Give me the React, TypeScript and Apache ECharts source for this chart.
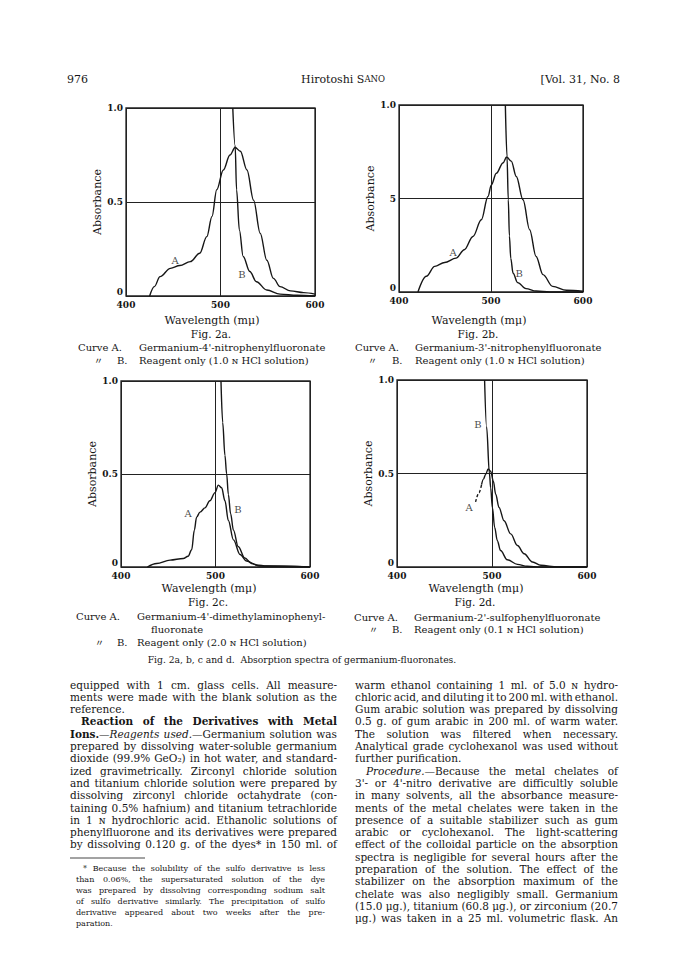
import React, { useEffect, useRef } from "react";
import * as echarts from "echarts";

// ---------- data ----------
const WAVE_MIN = 400;
const WAVE_MAX = 600;
const WAVE_STEP = 100;
const ABS_STEP = 0.5;

const fig2aA: number[][] = [[425,0],[430,0.05],[436,0.103],[447,0.147],[457,0.162],[468,0.183],[478,0.227],[485.5,0.316],[491,0.423],[496,0.565],[503,0.67],[510,0.75],[515.5,0.79],[521,0.77],[528,0.67],[535,0.51],[542,0.334],[549,0.19],[556,0.094],[563,0.05],[574,0.027],[588,0.018],[600,0.01]];
const fig2aB: number[][] = [[513,1.0],[515.5,0.8],[517,0.565],[520,0.35],[524,0.21],[531,0.13],[538,0.076],[549,0.032],[563,0.01],[581,0.004],[600,0]];

const fig2bA: number[][] = [[420.6,0],[429.7,0.084],[438.8,0.137],[449.6,0.158],[462,0.181],[471,0.226],[480.4,0.297],[489.5,0.386],[496.7,0.511],[500.4,0.573],[505.8,0.635],[513,0.69],[517,0.722],[522,0.7],[527.5,0.618],[534.8,0.493],[542,0.333],[549,0.19],[556.5,0.093],[567,0.03],[582,0.009],[600,0.004]];
const fig2bB: number[][] = [[515.6,1.0],[517.4,0.724],[518.8,0.493],[520,0.3],[521.5,0.18],[524,0.1],[529,0.05],[538,0.018],[549,0.005],[564,0],[600,0]];

const fig2cA: number[][] = [[427.9,0],[437.7,0.019],[451.9,0.037],[466,0.046],[471,0.058],[474.8,0.093],[477.6,0.198],[480,0.268],[483.6,0.295],[488.9,0.318],[494,0.356],[499.5,0.4],[503,0.44],[506.5,0.426],[510,0.356],[513.6,0.25],[519,0.146],[526,0.067],[533,0.032],[543.6,0.011],[554,0.005],[600,0]];
const fig2cB: number[][] = [[505.8,1.0],[507.6,0.777],[510,0.6],[511.8,0.5],[513.6,0.39],[516,0.286],[519,0.198],[524,0.11],[531,0.049],[538,0.019],[547,0.005],[600,0]];

const fig2dAdash: number[][] = [[482.7,0.348],[486.3,0.397],[489,0.44]];
const fig2dA: number[][] = [[489,0.44],[491,0.47],[493.3,0.495],[496,0.525],[498.6,0.512],[501.4,0.459],[503.9,0.389],[507.4,0.318],[512.7,0.247],[519.7,0.177],[526.8,0.115],[533.8,0.071],[542.6,0.027],[551.4,0.009],[569,0],[600,0]];
const fig2dB: number[][] = [[492.2,1.0],[494.3,0.75],[497.3,0.5],[498.6,0.424],[500.4,0.318],[502.8,0.212],[505.6,0.141],[509,0.088],[516,0.039],[526.8,0.014],[537,0.004],[551,0],[600,0]];

const curveLabels = [
  [{ name: "A", value: [451.9, 0.19] }, { name: "B", value: [522.8, 0.117] }],
  [{ name: "A", value: [458.7, 0.209] }, { name: "B", value: [530.5, 0.1] }],
  [{ name: "A", value: [470.9, 0.29] }, { name: "B", value: [523.8, 0.31] }],
  [{ name: "A", value: [475.8, 0.32] }, { name: "B", value: [485.3, 0.76] }],
];

const yTickLabels = [
  { 0: "0", 0.5: "0.5", 1: "1.0" },
  { 0: "0", 0.5: "5", 1: "1.0" },
  { 0: "0", 0.5: "0.5", 1: "1.0" },
  { 0: "0", 0.5: "0.5", 1: "1.0" },
];

const xAxisTitle = "Wavelength (m\u03bc)";
const yAxisTitle = "Absorbance";
const figNames = ["Fig. 2a.", "Fig. 2b.", "Fig. 2c.", "Fig. 2d."];
const curveACaptions = [
  ["Germanium-4'-nitrophenylfluoronate"],
  ["Germanium-3'-nitrophenylfluoronate"],
  ["Germanium-4'-dimethylaminophenyl-", "fluoronate"],
  ["Germanium-2'-sulfophenylfluoronate"],
];
const curveBCaptions = [
  "Reagent only (1.0 \u0274 HCl solution)",
  "Reagent only (1.0 \u0274 HCl solution)",
  "Reagent only (2.0 \u0274 HCl solution)",
  "Reagent only (0.1 \u0274 HCl solution)",
];
const mainCaption = "Fig. 2a, b, c and d.  Absorption spectra of germanium-fluoronates.";

const headerPage = "976";
const headerAuthor = "Hirotoshi S{sc|ANO}";
const headerVol = "[Vol. 31, No. 8";

const leftColumn = [
  "equipped with 1 cm. glass cells. All measure-",
  "ments were made with the blank solution as the",
  "reference.",
  "^Reaction of the Derivatives with Metal^",
  "^Ions.^\u2014~Reagents used.~\u2014Germanium solution was",
  "prepared by dissolving water-soluble germanium",
  "dioxide (99.9% GeO\u2082) in hot water, and standard-",
  "ized gravimetrically. Zirconyl chloride solution",
  "and titanium chloride solution were prepared by",
  "dissolving zirconyl chloride octahydrate (con-",
  "taining 0.5% hafnium) and titanium tetrachloride",
  "in 1 \u0274 hydrochloric acid. Ethanolic solutions of",
  "phenylfluorone and its derivatives were prepared",
  "by dissolving 0.120 g. of the dyes* in 150 ml. of",
];
const leftJustify = [1,1,0,1,1,1,1,1,1,1,1,1,1,1];
const leftIndent = [0,0,0,1,0,0,0,0,0,0,0,0,0,0];

const rightColumn = [
  "warm ethanol containing 1 ml. of 5.0 \u0274 hydro-",
  "chloric acid, and diluting it to 200 ml. with ethanol.",
  "Gum arabic solution was prepared by dissolving",
  "0.5 g. of gum arabic in 200 ml. of warm water.",
  "The solution was filtered when necessary.",
  "Analytical grade cyclohexanol was used without",
  "further purification.",
  "~Procedure.~\u2014Because the metal chelates of",
  "3'- or 4'-nitro derivative are difficultly soluble",
  "in many solvents, all the absorbance measure-",
  "ments of the metal chelates were taken in the",
  "presence of a suitable stabilizer such as gum",
  "arabic or cyclohexanol. The light-scattering",
  "effect of the colloidal particle on the absorption",
  "spectra is negligible for several hours after the",
  "preparation of the solution. The effect of the",
  "stabilizer on the absorption maximum of the",
  "chelate was also negligibly small. Germanium",
  "(15.0 \u03bcg.), titanium (60.8 \u03bcg.), or zirconium (20.7",
  "\u03bcg.) was taken in a 25 ml. volumetric flask. An",
];
const rightJustify = [1,1,1,1,1,1,0,1,1,1,1,1,1,1,1,1,1,1,1,1];
const rightIndent = [0,0,0,0,0,0,0,1,0,0,0,0,0,0,0,0,0,0,0,0];

const footnote = [
  "* Because the solubility of the sulfo derivative is less",
  "than 0.06%, the supersaturated solution of the dye",
  "was prepared by dissolving corresponding sodium salt",
  "of sulfo derivative similarly. The precipitation of sulfo",
  "derivative appeared about two weeks after the pre-",
  "paration.",
];
const footJustify = [1,1,1,1,1,0];

// ---------- layout ----------
const INK = "#161616";
const SERIF = '"DejaVu Serif", "Liberation Serif", serif';

const GRIDS = [
  { left: 126, top: 108, width: 189, height: 188 },
  { left: 399, top: 105, width: 184, height: 187 },
  { left: 121, top: 381, width: 189, height: 186 },
  { left: 397, top: 380, width: 190, height: 187 },
];

type Run = { t: string; bold: boolean; italic: boolean };

const canvas = typeof document !== "undefined" ? document.createElement("canvas") : null;
const ctx = canvas ? canvas.getContext("2d") : null;
function fontStr(size: number, bold: boolean, italic: boolean) {
  return `${italic ? "italic " : ""}${bold ? "bold " : ""}${size}px "DejaVu Serif"`;
}
function measure(t: string, size: number, bold: boolean, italic: boolean) {
  if (!ctx) return t.length * size * 0.55;
  ctx.font = fontStr(size, bold, italic);
  return ctx.measureText(t).width;
}
function parseLine(line: string): Run[][] {
  let bold = false, italic = false;
  const words: Run[][] = [];
  let cur: Run[] = [];
  let buf = "";
  const flush = () => { if (buf) { cur.push({ t: buf, bold, italic }); buf = ""; } };
  for (const ch of line) {
    if (ch === "^") { flush(); bold = !bold; }
    else if (ch === "~") { flush(); italic = !italic; }
    else if (ch === " ") { flush(); if (cur.length) words.push(cur); cur = []; }
    else buf += ch;
  }
  flush();
  if (cur.length) words.push(cur);
  return words;
}
function layoutLine(out: any[], line: string, x0: number, width: number, y: number, size: number, justify: boolean, indent: number) {
  const words = parseLine(line);
  const ww = words.map(w => w.reduce((s, r) => s + measure(r.t, size, r.bold, r.italic), 0));
  const total = ww.reduce((a, b) => a + b, 0);
  const avail = width - indent;
  const n = words.length;
  const space = measure(" ", size, false, false);
  let gap = space, scale = 1;
  if (justify && n > 1) {
    gap = (avail - total) / (n - 1);
    const minGap = space * 0.6;
    if (gap < minGap) { gap = minGap; scale = (avail - (n - 1) * minGap) / total; }
  } else if (total + (n - 1) * space > avail) {
    scale = (avail - (n - 1) * space) / total;
  }
  let x = x0 + indent;
  words.forEach(w => {
    w.forEach(r => {
      out.push({
        type: "text", x, y, scaleX: scale, silent: true,
        style: {
          text: r.t, fontSize: size, fontFamily: SERIF,
          fontWeight: r.bold ? "bold" : "normal", fontStyle: r.italic ? "italic" : "normal",
          fill: INK, align: "left", verticalAlign: "middle",
        },
      });
      x += measure(r.t, size, r.bold, r.italic) * scale;
    });
    x += gap;
  });
}
function txt(text: string, x: number, y: number, size: number, align = "left", extra: any = {}) {
  return {
    type: "text", x, y, silent: true,
    style: { text, fontSize: size, fontFamily: SERIF, fill: INK, align, verticalAlign: "middle", ...extra },
  };
}

function buildGraphics() {
  const g: any[] = [];
  // header
  const hy = 79;
  g.push(txt(headerPage, 67, hy, 11));
  g.push(txt(headerAuthor, 343, hy, 11, "center", { rich: { sc: { fontSize: 8.5, fontFamily: SERIF, fill: INK } } }));
  g.push(txt(headerVol, 620, hy, 11, "right"));

  // captions under each chart
  const capX = [212, 479, 209, 476];
  const capY = [320, 320, 588, 588];
  const curveX = [78, 355, 76, 354];
  const dittoX = [94, 368, 95, 369];
  const bX = [117, 392, 117, 392];
  const textX = [139, 415, 137, 414];
  const rowA = [347, 347, 616, 617];
  for (let i = 0; i < 4; i++) {
    g.push(txt(xAxisTitle, capX[i], capY[i], 11, "center"));
    g.push(txt(figNames[i], capX[i] - 1, capY[i] + 14, 10.5, "center"));
    g.push(txt("Curve A.", curveX[i], rowA[i], 10));
    curveACaptions[i].forEach((c, k) => {
      g.push(txt(c, textX[i] + (k > 0 ? 14 : 0), rowA[i] + k * 13, 10));
    });
    const rowB = rowA[i] + curveACaptions[i].length * 13 - (i === 3 ? 1 : 0);
    g.push(txt("\u3003", dittoX[i], rowB, 9, "left", { fontFamily: '"Noto Sans CJK JP", sans-serif' }));
    g.push(txt("B.", bX[i], rowB, 10));
    g.push(txt(curveBCaptions[i], textX[i], rowB, 10));
  }
  g.push(txt(mainCaption, 302, 659, 9.2, "center"));

  // body text
  const lineH = 12.3;
  const y0 = 684.5;
  leftColumn.forEach((l, i) => layoutLine(g, l, 70, 267, y0 + i * lineH, 10.5, !!leftJustify[i], leftIndent[i] ? 11 : 0));
  rightColumn.forEach((l, i) => layoutLine(g, l, 355, 263, y0 + i * lineH, 10.5, !!rightJustify[i], rightIndent[i] ? 11 : 0));

  // footnote
  g.push({ type: "line", silent: true, shape: { x1: 70, y1: 858, x2: 145, y2: 858 }, style: { stroke: INK, lineWidth: 0.8 } });
  footnote.forEach((l, i) => layoutLine(g, l, 76, 249, 868 + i * 11.1, 8, !!footJustify[i], i === 0 ? 7 : 0));
  return g;
}

export default function App() {
  const ref = useRef<HTMLDivElement>(null);
  useEffect(() => {
    if (!ref.current) return;
    const chart = echarts.init(ref.current, undefined, { renderer: "svg" });
    const axisFont = { fontFamily: SERIF, fontSize: 9, fontWeight: "bold" as const, color: INK };
    const grids = GRIDS.map(gr => ({ ...gr, show: true, borderColor: "#222", borderWidth: 1.3, backgroundColor: "transparent" }));
    const xAxes = GRIDS.map((_, i) => ({
      type: "value", gridIndex: i, min: WAVE_MIN, max: WAVE_MAX, interval: WAVE_STEP,
      axisLine: { show: false }, axisTick: { show: false },
      splitLine: { show: true, lineStyle: { color: "#222", width: 1 } },
      axisLabel: { ...axisFont, margin: 4, showMinLabel: true, showMaxLabel: true },
    }));
    const yAxes = GRIDS.map((_, i) => ({
      type: "value", gridIndex: i, min: 0, max: 1, interval: ABS_STEP,
      axisLine: { show: false }, axisTick: { show: false },
      splitLine: { show: true, lineStyle: { color: "#222", width: 1 } },
      name: yAxisTitle, nameLocation: "middle", nameGap: 21,
      nameTextStyle: { fontFamily: SERIF, fontSize: 11, color: INK },
      axisLabel: {
        ...axisFont, margin: 3, showMinLabel: true, showMaxLabel: true,
        formatter: (v: number) => {
          const s = (yTickLabels[i] as any)[v] ?? String(v);
          return v === 0 ? `{lo|${s}}` : s;
        },
        rich: { lo: { ...axisFont, padding: [0, 0, 9, 0] } },
      },
    }));
    const line = (i: number, data: number[][], dashed = false) => ({
      type: "line", xAxisIndex: i, yAxisIndex: i, data, showSymbol: false, symbol: "none",
      smooth: 0.35, smoothMonotone: "x", clip: true, silent: true,
      lineStyle: { color: INK, width: 1.4, type: dashed ? [3, 2] : "solid" },
    });
    const labels = (i: number) => ({
      type: "scatter", xAxisIndex: i, yAxisIndex: i, data: curveLabels[i], symbolSize: 1, silent: true,
      itemStyle: { color: "rgba(0,0,0,0)" },
      label: { show: true, position: "inside", formatter: "{b}", fontFamily: SERIF, fontSize: 10, color: INK },
    });
    chart.setOption({
      animation: false,
      backgroundColor: "#fff",
      grid: grids,
      xAxis: xAxes,
      yAxis: yAxes,
      series: [
        line(0, fig2aA), line(0, fig2aB), labels(0),
        line(1, fig2bA), line(1, fig2bB), labels(1),
        line(2, fig2cA), line(2, fig2cB), labels(2),
        line(3, fig2dAdash, true), line(3, fig2dA), line(3, fig2dB), labels(3),
      ],
      graphic: { elements: buildGraphics() },
    });
    return () => chart.dispose();
  }, []);
  return <div ref={ref} style={{ position: "absolute", left: 0, top: 0, width: 688, height: 972, background: "#fff" }} />;
}
